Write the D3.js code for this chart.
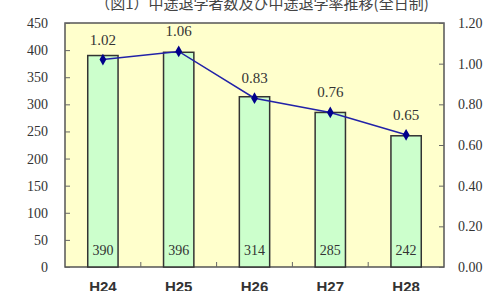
<!DOCTYPE html>
<html>
<head>
<meta charset="utf-8">
<script src="https://cdn.jsdelivr.net/npm/d3@7"></script>
<style>
  body { margin: 0; background: #fff; }
  svg text { font-family: "Liberation Serif", "DejaVu Serif", serif; fill: #333; }
</style>
</head>
<body>
<svg id="chart" width="489" height="291"></svg>
<script>
const years = ["H24", "H25", "H26", "H27", "H28"];
const dropouts = [390, 396, 314, 285, 242];
const rates = [1.02, 1.06, 0.83, 0.76, 0.65];
const leftTicks = [0, 50, 100, 150, 200, 250, 300, 350, 400, 450];
const rightTicks = [0, 0.2, 0.4, 0.6, 0.8, 1.0, 1.2];

const svg = d3.select("#chart");
const m = {left: 65, right: 444, top: 23, bottom: 267};

const x = d3.scaleBand().domain(years).range([m.left, m.right]).paddingInner(0.6).paddingOuter(0.3);
const yL = d3.scaleLinear().domain([0, 450]).range([m.bottom, m.top]);
const yR = d3.scaleLinear().domain([0, 1.2]).range([m.bottom, m.top]);

// title (cut off at top like the original)
svg.append("text")
    .attr("x", 262).attr("y", 9)
    .attr("text-anchor", "middle")
    .style("font-family", "'Noto Sans CJK JP', sans-serif")
    .style("font-size", "15px")
    .style("fill", "#444")
    .text("（図1）中途退学者数及び中途退学率推移(全日制)");

// plot background
svg.append("rect")
    .attr("x", m.left).attr("y", m.top)
    .attr("width", m.right - m.left).attr("height", m.bottom - m.top)
    .attr("fill", "#ffffcc").attr("stroke", "#555").attr("stroke-width", 1.5);

// left axis
const axL = svg.append("g")
    .attr("transform", `translate(${m.left},0)`)
    .call(d3.axisRight(yL).tickValues(leftTicks).tickSize(5).tickFormat(d3.format("d")));
axL.select(".domain").remove();
axL.selectAll("line").attr("stroke", "#666");
axL.selectAll("text").attr("x", -17).attr("text-anchor", "end")
    .style("font-size", "14px").style("font-family", "'Liberation Serif', serif").attr("fill", "#333");

// right axis
const axR = svg.append("g")
    .attr("transform", `translate(${m.right},0)`)
    .call(d3.axisLeft(yR).tickValues(rightTicks).tickSize(5).tickFormat(d3.format(".2f")));
axR.select(".domain").remove();
axR.selectAll("line").attr("stroke", "#666");
axR.selectAll("text").attr("x", 14).attr("text-anchor", "start")
    .style("font-size", "14px").style("font-family", "'Liberation Serif', serif").attr("fill", "#333");

// x axis: ticks at category boundaries
const step = x.step();
const bounds = years.slice(1).map((d, i) => x(d) + x.bandwidth() / 2 - step / 2);
svg.append("g").selectAll("line")
    .data(bounds).join("line")
    .attr("x1", d => d).attr("x2", d => d)
    .attr("y1", m.bottom).attr("y2", m.bottom - 5)
    .attr("stroke", "#666");

svg.append("g").selectAll("text")
    .data(years).join("text")
    .attr("x", d => x(d) + x.bandwidth() / 2)
    .attr("y", 292)
    .attr("text-anchor", "middle")
    .style("font-family", "'Liberation Sans', Arial, sans-serif")
    .style("font-weight", "bold")
    .style("font-size", "15px")
    .text(d => d);

// bars
svg.append("g").selectAll("rect")
    .data(years).join("rect")
    .attr("x", d => x(d))
    .attr("y", (d, i) => yL(dropouts[i]))
    .attr("width", x.bandwidth())
    .attr("height", (d, i) => yL(0) - yL(dropouts[i]))
    .attr("fill", "#ccffcc")
    .attr("stroke", "#333")
    .attr("stroke-width", 1.5);

svg.append("g").selectAll("text")
    .data(years).join("text")
    .attr("x", d => x(d) + x.bandwidth() / 2)
    .attr("y", 255)
    .attr("text-anchor", "middle")
    .style("font-size", "14px")
    .text((d, i) => dropouts[i]);

// rate line
const cx = d => x(d) + x.bandwidth() / 2;
const line = d3.line().x((d, i) => cx(years[i])).y(d => yR(d));
svg.append("path")
    .datum(rates)
    .attr("d", line)
    .attr("fill", "none")
    .attr("stroke", "#2222a8")
    .attr("stroke-width", 1.5);

svg.append("g").selectAll("path")
    .data(rates).join("path")
    .attr("d", d3.symbol(d3.symbolDiamond, 40))
    .attr("transform", (d, i) => `translate(${cx(years[i])},${yR(d)})`)
    .attr("fill", "#00008b");

svg.append("g").selectAll("text")
    .data(rates).join("text")
    .attr("x", (d, i) => cx(years[i]))
    .attr("y", d => yR(d) - 15)
    .attr("text-anchor", "middle")
    .style("font-size", "15px")
    .text(d => d.toFixed(2));
</script>
</body>
</html>
